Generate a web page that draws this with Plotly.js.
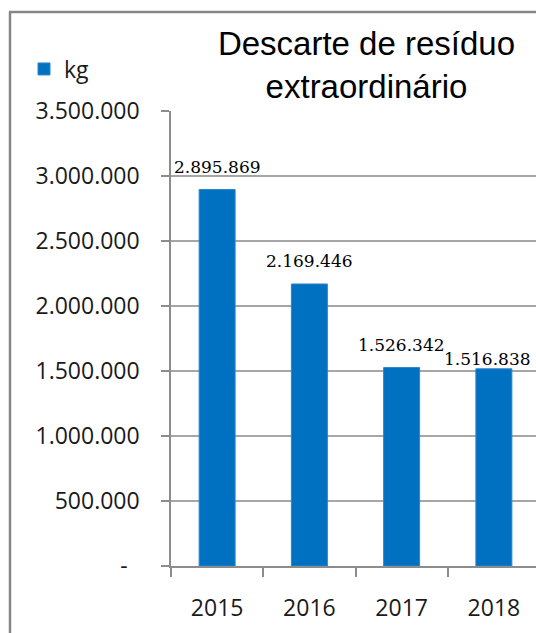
<!DOCTYPE html>
<html>
<head>
<meta charset="utf-8">
<script src="https://cdn.plot.ly/plotly-3.0.1.min.js"></script>
<style>
  html, body { margin: 0; padding: 0; overflow: hidden; background: #fff; }
  #chart { width: 540px; height: 633px; }
</style>
</head>
<body>
<div id="chart"></div>
<script>
// ---- data ----
const years = ['2015', '2016', '2017', '2018'];
const kgValues = [2895869, 2169446, 1526342, 1516838];
const seriesName = 'kg';
const titleText = 'Descarte de resíduo<br>extraordinário';
const yTickVals = [0, 500000, 1000000, 1500000, 2000000, 2500000, 3000000, 3500000];

function fmt(v) {
  return String(v).replace(/\B(?=(\d{3})+(?!\d))/g, '.');
}
const yTickText = yTickVals.map(v => v === 0 ? '-\u00a0\u00a0' : fmt(v));

const W = 540, H = 633;
const M = { l: 171, r: 0, t: 111, b: 67 };
const plotW = W - M.l - M.r, plotH = H - M.t - M.b;
const px2x = p => (p - M.l) / plotW;
const py2y = p => 1 - (p - M.t) / plotH;

const blue = '#0070C0';
const axisGray = '#8c8c8c';
const gridGray = '#a6a6a6';
const tickFont = { family: '"Open Sans", sans-serif', size: 23, color: '#1a1a1a' };
const labelFont = { family: '"DejaVu Serif", serif', size: 17, color: '#000' };

const trace = {
  type: 'bar',
  name: seriesName,
  x: years,
  y: kgValues,
  width: 0.39,
  marker: { color: blue, line: { color: '#2a86cf', width: 1 } },
  showlegend: true
};

const annotations = years.map((yr, i) => ({
  x: i,
  y: kgValues[i],
  xref: 'x', yref: 'y',
  text: fmt(kgValues[i]),
  showarrow: false,
  xanchor: 'center',
  yanchor: 'bottom',
  xshift: i === years.length - 1 ? -6 : 0,
  yshift: i === years.length - 1 ? -2 : 11,
  font: labelFont
}));

const borderLine = { color: '#868686', width: 2.5 };
const layout = {
  width: W,
  height: H,
  margin: M,
  paper_bgcolor: '#fff',
  plot_bgcolor: '#fff',
  title: {
    text: titleText,
    font: { family: '"Liberation Sans", Arial, sans-serif', size: 33, color: '#000' },
    xref: 'container', yref: 'container',
    x: 366.5 / W, xanchor: 'center',
    y: 1 - 55 / H, yanchor: 'top'
  },
  showlegend: true,
  legend: {
    xref: 'container', yref: 'container',
    x: 24 / W, xanchor: 'left',
    y: 1 - 69 / H, yanchor: 'middle',
    font: { family: '"Open Sans", sans-serif', size: 23, color: '#1a1a1a' },
    bgcolor: 'rgba(0,0,0,0)'
  },
  xaxis: {
    type: 'category',
    range: [-0.5, 3.5],
    showline: true, linecolor: axisGray, linewidth: 1.5,
    ticks: 'outside', tickson: 'boundaries', ticklen: 9, tickcolor: axisGray, tickwidth: 1.5,
    showgrid: false,
    tickfont: tickFont,
    ticklabelstandoff: 21,
    zeroline: false,
    fixedrange: true
  },
  yaxis: {
    range: [0, 3500000],
    tickvals: yTickVals,
    ticktext: yTickText,
    showline: true, linecolor: axisGray, linewidth: 1.5,
    ticks: 'outside', ticklen: 8, tickcolor: axisGray, tickwidth: 1.5,
    showgrid: true, gridcolor: gridGray, gridwidth: 1.5,
    zeroline: false,
    tickfont: tickFont,
    ticklabelstandoff: 17,
    fixedrange: true
  },
  annotations: annotations,
  shapes: [
    { type: 'line', xref: 'paper', yref: 'paper', layer: 'above',
      x0: px2x(10), x1: px2x(10), y0: py2y(12), y1: py2y(700), line: borderLine },
    { type: 'line', xref: 'paper', yref: 'paper', layer: 'above',
      x0: px2x(9), x1: px2x(538), y0: py2y(12), y1: py2y(12), line: borderLine }
  ],
  bargap: 0.6
};

Plotly.newPlot('chart', [trace], layout, { displayModeBar: false });
</script>
</body>
</html>
